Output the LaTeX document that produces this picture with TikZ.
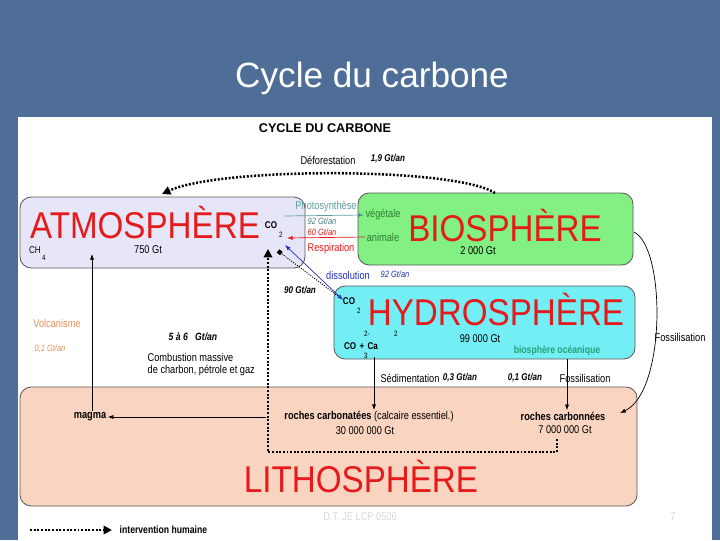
\documentclass[tikz,border=0pt]{standalone}
\usepackage{fontspec}
\setmainfont[FakeStretch=0.82]{Liberation Sans}
\newfontfamily\widefont{Liberation Sans}
\newfontfamily\spherefont[FakeStretch=0.89]{Liberation Sans}
\usepackage{tikz}
\usetikzlibrary{arrows.meta,positioning,fit}
\definecolor{slideblue}{HTML}{4E6E98}
\definecolor{atmofill}{HTML}{E6E6F8}
\definecolor{biofill}{HTML}{82F082}
\definecolor{hydrofill}{HTML}{72EEF4}
\definecolor{lithofill}{HTML}{F9D4C0}
\definecolor{spherered}{HTML}{E51A1A}
\definecolor{phototeal}{HTML}{5E9E9E}
\definecolor{leafgreen}{HTML}{2E7D32}
\definecolor{dissblue}{HTML}{2233BB}
\definecolor{volcorange}{HTML}{E8905A}
\definecolor{oceangreen}{HTML}{2AA07A}

\begin{document}
\begin{tikzpicture}[x=0.025cm,y=-0.025cm,
        font=\fontsize{8}{9}\selectfont,
        box/.style={draw=gray!70!black,rounded corners=8pt,inner sep=0pt,line width=0.6pt},
        sphere/.style={text=spherered,font=\spherefont\fontsize{26.5}{30}\selectfont,
                       inner sep=0pt,anchor=base},
        lab/.style={inner sep=1pt},
        rate/.style={inner sep=1pt,font=\fontsize{7}{8}\selectfont\bfseries\itshape},
        chem/.style={inner sep=0.5pt,font=\fontsize{7}{8}\selectfont\bfseries},
        idx/.style={inner sep=0.5pt,font=\fontsize{5.5}{6}\selectfont},
        flux/.style={-{Latex[length=4pt,width=3pt]},line width=0.5pt},
        human/.style={line width=1.8pt,dash pattern=on 1.4pt off 1.2pt,
                      -{Triangle[length=6pt,width=6pt]}}]
        % slide
        \fill[slideblue] (0,0) rectangle (720,540);
        \fill[white] (18,117) rectangle (712,540);
        \useasboundingbox (0,0) rectangle (720,540);
        \node[text=white,font=\widefont\fontsize{25}{30}\selectfont] (title) at (372,78) {Cycle du carbone};
        \node[font=\widefont\fontsize{9}{10}\selectfont\bfseries] (head) at (325,128) {CYCLE DU CARBONE};

        % reservoirs
        \node[box,fill=atmofill,fit={(20,197) (305,268)}] (atmo) {};
        \node[box,fill=biofill,fit={(358,193) (633,265)}] (bio) {};
        \node[box,fill=hydrofill,fit={(334,286) (635,359)}] (hydro) {};
        \node[box,fill=lithofill,fit={(20,387) (637,506)}] (litho) {};

        \node[sphere] (atmolab) at (145,238) {ATMOSPHÈRE};
        \node[sphere] (biolab) at (505,241.5) {BIOSPHÈRE};
        \node[sphere] (hydrolab) at (496,325.5) {HYDROSPHÈRE};
        \node[sphere] (litholab) at (361,492) {LITHOSPHÈRE};

        % atmosphere
        \node[chem] (co2a) at (271,225) {CO};
        \node[idx] (co2aidx) at (281,235) {2};
        \node[lab,font=\fontsize{7}{8}\selectfont] (ch4) at (35,250) {CH};
        \node[idx] (ch4idx) at (44,258) {4};
        \node[lab] (atmogt) at (148,250) {750 Gt};

        % biosphere
        \node[lab,text=leafgreen] (veg) at (383,215) {végétale};
        \node[lab,text=leafgreen] (anim) at (383,237) {animale};
        \node[lab] (biogt) at (478,251) {2 000 Gt};
        \node[lab,text=phototeal] (photo) at (326,207) {Photosynthèse};
        \node[rate,text=phototeal!80!black,font=\fontsize{6.5}{7}\selectfont\itshape] (photorate) at (322,221) {92 Gt/an};
        \node[rate,text=spherered,font=\fontsize{6.5}{7}\selectfont\itshape] (resprate) at (322,232) {60 Gt/an};
        \node[lab,text=spherered] (resp) at (331,249) {Respiration};
        \coordinate (photoA) at (284,216);
        \coordinate (respB) at (287,238);
        \draw[flux,phototeal,-{Latex[length=4pt,width=3pt,fill=leafgreen]}] (photoA) -- (veg.west);
        \draw[flux,spherered] (anim.west) -- (respB);

        % deforestation
        \node[lab] (defor) at (328,160) {Déforestation};
        \node[rate] (deforrate) at (388,159) {1,9 Gt/an};
        \coordinate (defA) at (495,193);
        \coordinate (defB) at (162,194);
        \draw[human] (defA) .. controls (455,167) and (220,167) .. (defB);

        % hydrosphere
        \node[chem] (co2h) at (349,301) {CO};
        \node[idx] (co2hidx) at (359,311) {2};
        \node[idx] (co3sup) at (367,334) {2-};
        \node[idx] (casup) at (396,334) {2};
        \node[chem] (caco3) at (361,346) {CO\,\,+\,\,Ca};
        \node[idx] (co3idx) at (366,356) {3};
        \node[lab] (hydrogt) at (480,339) {99 000 Gt};
        \node[lab,text=oceangreen,font=\fontsize{7.5}{8}\selectfont\bfseries] (ocean) at (557,351) {biosphère océanique};

        % exchanges atmosphere / hydrosphere
        \node[lab,text=dissblue] (diss) at (348,275) {dissolution};
        \node[rate,text=dissblue,font=\fontsize{6.5}{7}\selectfont\itshape] (dissrate) at (395,274) {92 Gt/an};
        \node[rate] (degrate) at (300,290) {90 Gt/an};
        \coordinate (dissA) at (285,245);
        \coordinate (dissB) at (343,300);
        \coordinate (degA) at (338,296);
        \coordinate (degB) at (278,251);
        \draw[dissblue,line width=0.5pt,{Latex[length=4pt,width=3pt]}-{Latex[length=4pt,width=3pt]}] (dissA) -- (dissB);
        \draw[densely dotted,line width=0.7pt,-{Square[length=3pt,width=3pt]}] (degA) -- (degB);

        % volcanism and combustion
        \node[lab,text=volcorange] (volc) at (57,323) {Volcanisme};
        \node[rate,text=volcorange,font=\fontsize{6.5}{7}\selectfont\itshape] (volcrate) at (50,349) {0,1 Gt/an};
        \node[rate,font=\fontsize{7.5}{8}\selectfont\bfseries\itshape] (combrate) at (193,337) {5 à 6~~~Gt/an};
        \node[lab,anchor=west] (comb1) at (146,357) {Combustion massive};
        \node[lab,anchor=west] (comb2) at (146,371) {de charbon, pétrole et gaz};

        % lithosphere
        \node[lab,font=\fontsize{8}{9}\selectfont\bfseries] (magma) at (90,417) {magma};
        \node[lab] (rcarb) at (369,417) {\textbf{roches carbonatées} (calcaire essentiel.)};
        \node[lab] (rcarbgt) at (365,431) {30 000 000 Gt};
        \node[lab,font=\fontsize{8}{9}\selectfont\bfseries] (rcarn) at (563,416) {roches carbonnées};
        \node[lab] (rcarngt) at (565,430) {7 000 000 Gt};

        \coordinate (volcTip) at (92,254);
        \draw[flux] (magma.north -| volcTip) -- (volcTip);
        \draw[flux] ([xshift=-12pt]rcarb.west) -- (magma.east);

        % sedimentation and fossilisation
        \node[lab] (sedim) at (410,378) {Sédimentation};
        \node[rate] (sedimrate) at (460,378) {0,3 Gt/an};
        \node[rate] (fossrate) at (525,378) {0,1 Gt/an};
        \node[lab] (foss) at (585,378) {Fossilisation};
        \node[lab] (fossbio) at (680,337) {Fossilisation};
        \coordinate (sedA) at (374,357);
        \coordinate (fossA) at (567,359);
        \coordinate (fossC) at (634,232);
        \coordinate (fossD) at (620,413);
        \draw[flux] (sedA) -- (sedA |- rcarb.north);
        \draw[flux] (fossA) -- (fossA |- rcarn.north);
        \draw[flux] (fossC) .. controls (666,248) and (666,392) .. (fossD);

        % human intervention, fossil fuels
        \coordinate (humA) at (557,439);
        \coordinate (humB) at (557,452);
        \coordinate (humC) at (268,452);
        \coordinate (humD) at (268,249);
        \draw[human] (humA) -- (humB) -- (humC) -- (humD);

        % legend and footer
        \coordinate (legA) at (30,530);
        \coordinate (legB) at (112,530);
        \draw[human,line width=1.5pt] (legA) -- (legB);
        \node[lab,anchor=west,font=\fontsize{7.5}{8}\selectfont\bfseries] (legtext) at (118,530) {intervention humaine};
        \node[lab,text=gray!30] (footer) at (360,517) {D.T. JE LCP 0506};
        \node[lab,text=gray!30] (pagenum) at (673,517) {7};
      \end{tikzpicture}
\end{document}
